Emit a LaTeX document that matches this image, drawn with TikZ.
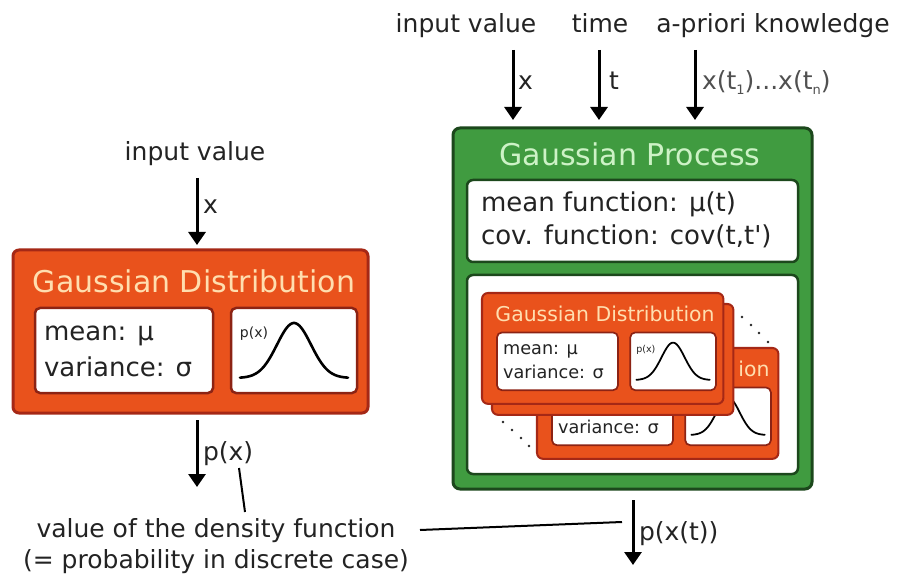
\documentclass[tikz,border=0pt]{standalone}
\usepackage{fontspec}
\setmainfont{DejaVu Sans}
\usetikzlibrary{arrows.meta}
\definecolor{txt}{RGB}{35,35,35}
\definecolor{txtgray}{RGB}{80,80,80}
\definecolor{ofill}{RGB}{233,82,28}
\definecolor{oborder}{RGB}{165,40,22}
\definecolor{oinner}{RGB}{140,35,20}
\definecolor{otitle}{RGB}{255,222,175}
\definecolor{gfill}{RGB}{64,155,64}
\definecolor{gborder}{RGB}{28,72,28}
\definecolor{gtitle}{RGB}{205,242,198}

\tikzset{
  arr/.style={draw=black, line width=3pt, -{Triangle[width=17pt,length=13pt]}},
  pointer/.style={draw=black, line width=2pt},
  obox/.style={draw=oborder, fill=ofill, rounded corners=6pt},
  owbox/.style={draw=oinner, fill=white, rounded corners=5pt},
  gbox/.style={draw=gborder, fill=gfill, line width=3pt, rounded corners=7pt},
  gwbox/.style={draw=gborder, fill=white, line width=2.5pt, rounded corners=6pt},
  lbl/.style={font=\fontsize{25}{31}\selectfont},
  ttl/.style={font=\fontsize{30}{36}\selectfont},
  body/.style={font=\fontsize{26}{35}\selectfont, align=left},
}

% frame of one distribution box (local coordinates, top-left at origin)
\newcommand\gdframe[1]{%
  \node[obox, line width=#1*3pt, anchor=north west, minimum width=355pt, minimum height=163pt] (frame) at (0,0) {};
}
% distribution box: #1 line width factor, #2 title node, #3 mean line
\newcommand\gdbox[3]{%
  \gdframe{#1}
  #2
  \node[owbox, line width=#1*2.5pt, anchor=north west, minimum width=178pt, minimum height=85pt] (params) at (22,58) {};
  #3
  \node[body, anchor=base west] (vartext) at (31,126) {variance: σ};
  \node[owbox, line width=#1*2.5pt, anchor=north west, minimum width=126pt, minimum height=85pt] (plotbox) at (218,58) {};
  \node[font=\fontsize{14}{14}\selectfont] (plabel) at (241,84) {p(x)};
  \draw[line width=#1*2.6pt, line cap=round] plot[domain=-54:54, samples=70, smooth] ({281+\x},{128-55*exp(-(\x*\x)/(2*17*17))});
}
\newcommand\meanline{\node[body, anchor=base west] (meantext) at (31,91) {mean: μ};}
\newcommand\fulltitle{\node[ttl, text=otitle, anchor=base east] (title) at (342,42.5) {Gaussian Distribution};}
\newcommand\parttitle{\node[ttl, text=otitle, anchor=base east] (title) at (342,42.5) {ion};}

\begin{document}
\begin{tikzpicture}[x=1pt, y=-1pt, every node/.style={text=txt, inner sep=0pt, outer sep=0pt}]
\useasboundingbox[fill=white] (0,0) rectangle (897,577);

% ---------- left: Gaussian distribution ----------
\node[lbl, anchor=base] (leftin) at (195,161) {input value};
\coordinate (lx) at (197,178);
\begin{scope}[shift={(13,250)}, name prefix=big-]
  \gdbox{1}{\fulltitle}{\meanline}
\end{scope}
\draw[arr, shorten >=5pt] (lx) -- (lx |- big-frame.north);
\node[lbl, anchor=base west] (lxlab) at (203,214) {x};

\coordinate (px) at (197,487);
\draw[arr, shorten <=7pt] (px |- big-frame.south) -- (px);
\node[lbl, anchor=base west] (pxlab) at (203,460) {p(x)};

\node[lbl, align=center] (density) at (216,546) {value of the density function\\(= probability in discrete case)};
\coordinate (pa) at (239,468);
\coordinate (pb) at (245,512);
\draw[pointer] (pa) -- (pb);

% ---------- right: Gaussian process ----------
\node[lbl, anchor=base] (tin) at (466,33) {input value};
\node[lbl, anchor=base] (ttime) at (600,33) {time};
\node[lbl, anchor=base] (tprior) at (773,33) {a-priori knowledge};

\node[gbox, anchor=north west, minimum width=359pt, minimum height=361pt] (gp) at (453,128) {};
\node[ttl, text=gtitle] (gptitle) at (630,154) {Gaussian Process};
\node[gwbox, anchor=north west, minimum width=331pt, minimum height=82pt] (funcs) at (467,180) {};
\node[body, anchor=west, font=\fontsize{26}{33}\selectfont] (functext) at (481,220) {mean function: μ(t)\\cov. function: cov(t,t\textquotesingle)};
\node[gwbox, anchor=north west, minimum width=331pt, minimum height=199pt] (inner) at (467,275) {};

\coordinate (ax) at (513,50);
\coordinate (at) at (599,50);
\coordinate (ap) at (695,50);
\draw[arr, shorten >=8pt] (ax) -- (ax |- gp.north);
\draw[arr, shorten >=8pt] (at) -- (at |- gp.north);
\draw[arr, shorten >=8pt] (ap) -- (ap |- gp.north);
\node[lbl, anchor=base west] (axlab) at (518,90) {x};
\node[lbl, anchor=base west] (atlab) at (609,90) {t};
\node[lbl, anchor=base west, text=txtgray] (aplab) at (702,90) {x(t{\fontsize{13}{13}\selectfont\raisebox{-5pt}{1}})...x(t{\fontsize{13}{13}\selectfont\raisebox{-5pt}{n}})};

% stacked distributions
\begin{scope}[shift={(537,348)}, scale=0.68, transform shape, name prefix=back-]
  \gdbox{0.68}{\parttitle}{}
\end{scope}
\begin{scope}[shift={(492,304)}, scale=0.68, transform shape, name prefix=mid-]
  \gdframe{0.68}
\end{scope}
\begin{scope}[shift={(482,293)}, scale=0.68, transform shape, name prefix=front-]
  \gdbox{0.68}{\fulltitle}{\meanline}
\end{scope}
\foreach \i/\px/\py in {1/742/317, 2/751/325, 3/759/333, 4/768/342, 5/503/422, 6/512/430, 7/521/438, 8/529/446}
  \fill[txt] (\px,\py) circle[radius=1.4pt];

\coordinate (bx) at (633,565);
\draw[arr, shorten <=11pt] (bx |- gp.south) -- (bx);
\node[lbl, anchor=base west] (pxtlab) at (639,540) {p(x(t))};
\coordinate (la) at (420,530);
\coordinate (lb) at (622,522);
\draw[pointer] (la) -- (lb);
\end{tikzpicture}
\end{document}
